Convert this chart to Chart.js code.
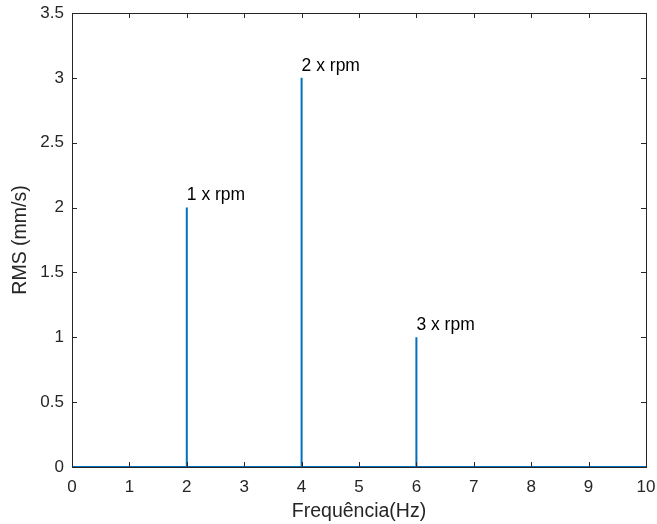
<!DOCTYPE html>
<html>
<head>
<meta charset="utf-8">
<script src="https://cdn.jsdelivr.net/npm/chart.js@4.4.1/dist/chart.umd.min.js"></script>
<style>
html,body{margin:0;padding:0;background:#fff;}
#wrap{width:657px;height:524px;position:relative;}
</style>
</head>
<body>
<div id="wrap"><canvas id="c" width="657" height="524"></canvas></div>
<script>
// Spectrum trace (frequency in Hz, RMS in mm/s)
const freqs = [0, 2, 2, 2, 4, 4, 4, 6, 6, 6, 10];
const rms   = [0, 0, 2, 0, 0, 3, 0, 0, 1, 0, 0];
// Peak annotations
const peakFreqs  = [2, 4, 6];
const peakValues = [2, 3, 1];
const peakLabels = ['1 x rpm', '2 x rpm', '3 x rpm'];
// Axis ticks
const xTicks = [0,1,2,3,4,5,6,7,8,9,10];
const yTicks = [0,0.5,1,1.5,2,2.5,3,3.5];

const FONT = '"Liberation Sans", Arial, Helvetica, sans-serif';
const AX = '#262626';

const boxTicks = {
  id: 'boxTicks',
  afterDraw(chart) {
    const ctx = chart.ctx, a = chart.chartArea;
    const xs = chart.scales.x, ys = chart.scales.y;
    ctx.save();
    ctx.strokeStyle = AX;
    ctx.lineWidth = 1;
    ctx.beginPath();
    const L = 5;
    xTicks.forEach(v => {
      const px = Math.round(xs.getPixelForValue(v)) + 0.5;
      ctx.moveTo(px, a.bottom); ctx.lineTo(px, a.bottom - L);
      ctx.moveTo(px, a.top); ctx.lineTo(px, a.top + L);
    });
    yTicks.forEach(v => {
      const py = Math.round(ys.getPixelForValue(v)) + 0.5;
      ctx.moveTo(a.left, py); ctx.lineTo(a.left + L, py);
      ctx.moveTo(a.right, py); ctx.lineTo(a.right - L, py);
    });
    ctx.stroke();
    ctx.strokeRect(Math.round(a.left) + 0.5, Math.round(a.top) + 0.5,
                   Math.round(a.right - a.left), Math.round(a.bottom - a.top));
    // peak labels
    ctx.fillStyle = '#000';
    ctx.font = '17.5px ' + FONT;
    ctx.textAlign = 'left';
    ctx.textBaseline = 'middle';
    peakFreqs.forEach((f, i) => {
      const px = xs.getPixelForValue(f);
      const py = ys.getPixelForValue(peakValues[i]);
      ctx.fillText(peakLabels[i], px, py - 12);
    });
    ctx.restore();
  }
};

new Chart(document.getElementById('c'), {
  type: 'line',
  data: {
    datasets: [{
      data: freqs.map((f, i) => ({x: f, y: rms[i]})),
      borderColor: '#0072BD',
      borderWidth: 2,
      pointRadius: 0,
      tension: 0,
      fill: false
    }]
  },
  options: {
    responsive: false,
    animation: false,
    devicePixelRatio: 1,
    layout: {padding: {left: 0, right: 11, top: 13, bottom: 0}},
    plugins: {legend: {display: false}, tooltip: {enabled: false}},
    scales: {
      x: {
        type: 'linear', min: 0, max: 10,
        afterBuildTicks: s => { s.ticks = xTicks.map(v => ({value: v})); },
        afterFit: s => { s.height = 57; s.paddingLeft = 0; s.paddingRight = 0; },
        grid: {display: false, drawTicks: false},
        border: {display: false},
        ticks: {color: AX, font: {family: FONT, size: 17}, padding: 10, maxRotation: 0},
        title: {display: true, text: 'Frequência(Hz)', color: AX, font: {family: FONT, size: 19.5}, padding: {top: 2, bottom: 1}}
      },
      y: {
        type: 'linear', min: 0, max: 3.5,
        afterBuildTicks: s => { s.ticks = yTicks.map(v => ({value: v})); },
        afterFit: s => { s.width = 72; s.paddingTop = 0; s.paddingBottom = 0; },
        grid: {display: false, drawTicks: false},
        border: {display: false},
        ticks: {color: AX, font: {family: FONT, size: 17}, padding: 8,
                callback: v => String(v)},
        title: {display: true, text: 'RMS (mm/s)', color: AX, font: {family: FONT, size: 19.5}, padding: {top: 9, bottom: 2}}
      }
    }
  },
  plugins: [boxTicks]
});
</script>
</body>
</html>
